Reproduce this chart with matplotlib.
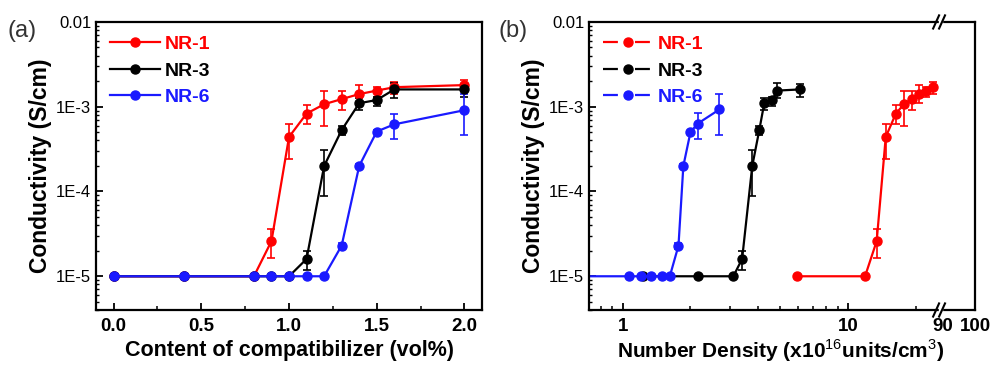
import numpy as np
import matplotlib
matplotlib.use("Agg")
from matplotlib import pyplot as plt
from matplotlib.lines import Line2D
from matplotlib.ticker import FixedLocator, NullFormatter, LogLocator, MultipleLocator

plt.rcParams['font.family'] = ['Liberation Sans', 'DejaVu Sans']
plt.rcParams['mathtext.fontset'] = 'custom'
plt.rcParams['mathtext.rm'] = 'Liberation Sans'
plt.rcParams['mathtext.bf'] = 'Liberation Sans:bold'

# ---- panel (a): conductivity vs compatibilizer content ----
nr1_content = [0.0, 0.4, 0.8, 0.9, 1.0, 1.1, 1.2, 1.3, 1.4, 1.5, 1.6, 2.0]
nr1_cond = [1e-5, 1e-5, 1e-5, 2.6e-5, 4.4e-4, 8.3e-4, 1.07e-3, 1.23e-3, 1.41e-3, 1.55e-3, 1.7e-3, 1.8e-3]
nr1_lo = [1e-5, 1e-5, 1e-5, 1.66e-5, 2.4e-4, 6.3e-4, 5.9e-4, 9.1e-4, 1.1e-3, 1.3e-3, 1.4e-3, 1.58e-3]
nr1_hi = [1e-5, 1e-5, 1e-5, 3.6e-5, 6.3e-4, 1.05e-3, 1.54e-3, 1.54e-3, 1.8e-3, 1.7e-3, 1.98e-3, 2.07e-3]

nr3_content = [0.0, 0.4, 0.8, 0.9, 1.0, 1.1, 1.2, 1.3, 1.4, 1.5, 1.6, 2.0]
nr3_cond = [1e-5, 1e-5, 1e-5, 1e-5, 1e-5, 1.6e-5, 2e-4, 5.3e-4, 1.1e-3, 1.2e-3, 1.6e-3, 1.6e-3]
nr3_lo = [1e-5, 1e-5, 1e-5, 1e-5, 1e-5, 1.2e-5, 8.8e-5, 4.6e-4, 9.1e-4, 1.02e-3, 1.26e-3, 1.3e-3]
nr3_hi = [1e-5, 1e-5, 1e-5, 1e-5, 1e-5, 2e-5, 3.1e-4, 5.9e-4, 1.26e-3, 1.3e-3, 1.9e-3, 1.85e-3]

nr6_content = [0.0, 0.4, 0.8, 0.9, 1.0, 1.1, 1.2, 1.3, 1.4, 1.5, 1.6, 2.0]
nr6_cond = [1e-5, 1e-5, 1e-5, 1e-5, 1e-5, 1e-5, 1e-5, 2.3e-5, 2e-4, 5.1e-4, 6.2e-4, 9.1e-4]
nr6_lo = [1e-5, 1e-5, 1e-5, 1e-5, 1e-5, 1e-5, 1e-5, 2.1e-5, 1.9e-4, 4.9e-4, 4.2e-4, 4.6e-4]
nr6_hi = [1e-5, 1e-5, 1e-5, 1e-5, 1e-5, 1e-5, 1e-5, 2.5e-5, 2.1e-4, 5.3e-4, 8.2e-4, 1.4e-3]

# ---- panel (b): conductivity vs number density (x1e16 units/cm3) ----
nr1_dens = [5.95, 11.9, 13.4, 14.7, 16.3, 17.7, 19.2, 20.6, 22.2, 23.7]
nr1_dcond = [1e-5, 1e-5, 2.6e-5, 4.4e-4, 8.3e-4, 1.07e-3, 1.23e-3, 1.41e-3, 1.55e-3, 1.7e-3]
nr1_dlo = [1e-5, 1e-5, 1.66e-5, 2.4e-4, 6.3e-4, 5.9e-4, 9.1e-4, 1.1e-3, 1.3e-3, 1.4e-3]
nr1_dhi = [1e-5, 1e-5, 3.6e-5, 6.3e-4, 1.05e-3, 1.54e-3, 1.54e-3, 1.8e-3, 1.7e-3, 1.98e-3]

nr3_dens = [1.23, 2.17, 3.10, 3.39, 3.76, 4.04, 4.25, 4.61, 4.85, 6.13]
nr3_dcond = [1e-5, 1e-5, 1e-5, 1.6e-5, 2e-4, 5.3e-4, 1.1e-3, 1.2e-3, 1.55e-3, 1.6e-3]
nr3_dlo = [1e-5, 1e-5, 1e-5, 1.2e-5, 8.8e-5, 4.6e-4, 9.1e-4, 1.02e-3, 1.26e-3, 1.3e-3]
nr3_dhi = [1e-5, 1e-5, 1e-5, 2e-5, 3.1e-4, 5.9e-4, 1.26e-3, 1.3e-3, 1.9e-3, 1.85e-3]

nr6_dens = [0.54, 1.07, 1.21, 1.34, 1.49, 1.62, 1.77, 1.86, 2.0, 2.15, 2.69]
nr6_dcond = [1e-5, 1e-5, 1e-5, 1e-5, 1e-5, 1e-5, 2.3e-5, 2e-4, 5e-4, 6.3e-4, 9.3e-4]
nr6_dlo = [1e-5, 1e-5, 1e-5, 1e-5, 1e-5, 1e-5, 2.1e-5, 1.9e-4, 4.8e-4, 4.2e-4, 4.6e-4]
nr6_dhi = [1e-5, 1e-5, 1e-5, 1e-5, 1e-5, 1e-5, 2.5e-5, 2.1e-4, 5.2e-4, 8.4e-4, 1.4e-3]

names = ['NR-1', 'NR-3', 'NR-6']
colors = ['#ff0000', '#000000', '#1a1aff']
ytick_vals = [1e-5, 1e-4, 1e-3, 1e-2]
ytick_labels = ['1E-5', '1E-4', '1E-3', '0.01']


def draw_series(ax, x, y, lo, hi, color):
    y = np.array(y)
    yerr = [y - np.array(lo), np.array(hi) - y]
    ax.errorbar(x, y, yerr=yerr, color=color, ecolor=color, lw=1.6, elinewidth=1.2,
                capsize=3, capthick=1.2, marker='o', ms=6.5, mec=color, mfc=color)


def style_y(ax):
    ax.set_yscale('log')
    ax.set_ylim(4e-6, 1e-2)
    ax.yaxis.set_major_locator(FixedLocator(ytick_vals))
    ax.set_yticklabels(ytick_labels)
    ax.yaxis.set_minor_locator(LogLocator(base=10, subs=np.arange(2, 10)))
    ax.yaxis.set_minor_formatter(NullFormatter())
    ax.tick_params(axis='y', which='both', direction='in', right=False, labelsize=12)
    ax.tick_params(axis='y', which='major', length=5, width=1.3)
    ax.tick_params(axis='y', which='minor', length=2.5, width=1)
    ax.set_ylabel('Conductivity (S/cm)', fontsize=16.5, fontweight='bold', labelpad=3)


def style_legend(ax, ls):
    handles = [Line2D([], [], color=c, lw=1.6, ls=ls, marker='o', ms=6.5) for c in colors]
    ax.legend(handles, names, loc='upper left', frameon=False, handlelength=2.6,
              borderaxespad=0.3, labelspacing=0.45, handletextpad=0.25,
              labelcolor='linecolor', prop={'weight': 'bold', 'size': 14})


fig = plt.figure(figsize=(9.91, 3.66), dpi=100)

# ---------- (a) ----------
ax1 = fig.add_axes([0.0969, 0.153, 0.3895, 0.787])
for x, y, lo, hi, c in [(nr1_content, nr1_cond, nr1_lo, nr1_hi, colors[0]),
                        (nr3_content, nr3_cond, nr3_lo, nr3_hi, colors[1]),
                        (nr6_content, nr6_cond, nr6_lo, nr6_hi, colors[2])]:
    draw_series(ax1, x, y, lo, hi, c)
ax1.set_xlim(-0.1, 2.1)
ax1.xaxis.set_major_locator(MultipleLocator(0.5))
ax1.xaxis.set_minor_locator(MultipleLocator(0.25))
ax1.tick_params(axis='x', which='both', direction='in', top=False, labelsize=13.5)
ax1.tick_params(axis='x', which='major', length=5, width=1.3, pad=6)
ax1.tick_params(axis='x', which='minor', length=3, width=1.1)
for lab in ax1.get_xticklabels():
    lab.set_fontweight('bold')
style_y(ax1)
ax1.set_xlabel('Content of compatibilizer (vol%)', fontsize=15.5, fontweight='bold', labelpad=3)
for s in ax1.spines.values():
    s.set_linewidth(1.6)
style_legend(ax1, '-')
fig.text(0.008, 0.90, '(a)', fontsize=17, color='#333333')

# ---------- (b) ----------
ax2 = fig.add_axes([0.5944, 0.153, 0.3542, 0.787])
for x, y, lo, hi, c in [(nr1_dens, nr1_dcond, nr1_dlo, nr1_dhi, colors[0]),
                        (nr3_dens, nr3_dcond, nr3_dlo, nr3_dhi, colors[1]),
                        (nr6_dens, nr6_dcond, nr6_dlo, nr6_dhi, colors[2])]:
    draw_series(ax2, x, y, lo, hi, c)
ax2.set_xscale('log')
ax2.set_xlim(0.71, 25.6)
ax2.xaxis.set_major_locator(FixedLocator([1, 10]))
ax2.set_xticklabels(['1', '10'])
ax2.xaxis.set_minor_locator(LogLocator(base=10, subs=np.arange(2, 10)))
ax2.xaxis.set_minor_formatter(NullFormatter())
ax2.tick_params(axis='x', which='both', direction='in', top=False, labelsize=13.5)
ax2.tick_params(axis='x', which='major', length=5, width=1.3, pad=6)
ax2.tick_params(axis='x', which='minor', length=3, width=1.1)
for lab in ax2.get_xticklabels():
    lab.set_fontweight('bold')
style_y(ax2)
ax2.set_xlabel(r'Number Density (x10$^{16}$units/cm$^{3}$)',
               fontsize=15, fontweight='bold')
ax2.xaxis.set_label_coords(0.545, -0.095)
ax2.xaxis.label.set_va('top')
for s in ax2.spines.values():
    s.set_linewidth(1.6)
ax2.spines['right'].set_visible(False)
style_legend(ax2, (0, (6.7, 7.7)))

# right segment after the axis break
ax3 = fig.add_axes([0.9486, 0.153, 0.0353, 0.787])
ax3.set_xlim(89, 100)
ax3.set_ylim(4e-6, 1e-2)
ax3.set_yscale('log')
ax3.set_yticks([])
ax3.yaxis.set_minor_locator(FixedLocator([]))
ax3.xaxis.set_major_locator(FixedLocator([90, 100]))
ax3.tick_params(axis='x', direction='in', length=0, labelsize=13.5, pad=6)
for lab in ax3.get_xticklabels():
    lab.set_fontweight('bold')
for s in ax3.spines.values():
    s.set_linewidth(1.6)
ax3.spines['left'].set_visible(False)
ax3.patch.set_alpha(0)

# break marks "//"
bx = 0.9486
for yb in [0.153, 0.153 + 0.787]:
    fig.add_artist(plt.Rectangle((bx - 0.0015, yb - 0.006), 0.003, 0.012, color='white',
                                 transform=fig.transFigure, zorder=5))
    for dx in [-0.004, 0.002]:
        fig.add_artist(Line2D([bx + dx - 0.003, bx + dx + 0.003], [yb - 0.018, yb + 0.018],
                              color='black', lw=1.5, transform=fig.transFigure, zorder=6))

fig.text(0.503, 0.90, '(b)', fontsize=17, color='#333333')

fig.savefig('out.png', dpi=100)
